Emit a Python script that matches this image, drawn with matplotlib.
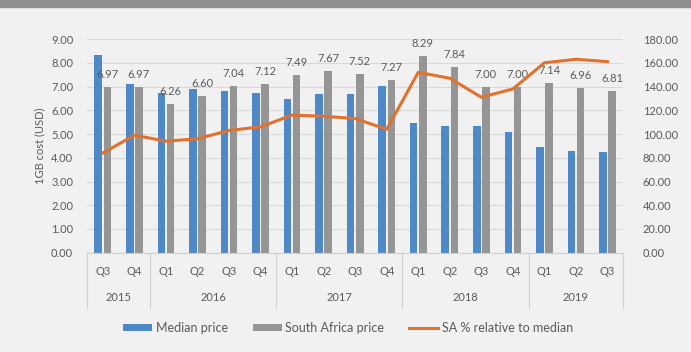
import numpy as np
import matplotlib.pyplot as plt
from matplotlib.transforms import blended_transform_factory
from matplotlib.patches import Rectangle

plt.rcParams['font.family'] = ['Lato', 'DejaVu Sans']

quarters = ['Q3', 'Q4', 'Q1', 'Q2', 'Q3', 'Q4', 'Q1', 'Q2', 'Q3', 'Q4',
            'Q1', 'Q2', 'Q3', 'Q4', 'Q1', 'Q2', 'Q3']
years = ['2015', '2016', '2017', '2018', '2019']
year_counts = [2, 4, 4, 4, 3]

median_price = [8.32, 7.10, 6.71, 6.88, 6.82, 6.71, 6.48, 6.67, 6.68, 7.01,
                5.46, 5.33, 5.33, 5.08, 4.46, 4.28, 4.23]
sa_price = [6.97, 6.97, 6.26, 6.60, 7.04, 7.12, 7.49, 7.67, 7.52, 7.27,
            8.29, 7.84, 7.00, 7.00, 7.14, 6.96, 6.81]
sa_relative = [84, 99, 94, 96, 103, 106, 116, 115, 113, 104,
               152, 147, 131, 138, 160, 163, 161]

blue = '#4f88c6'
grey = '#959595'
orange = '#e2712e'
txt = '#5a5a5a'
bg = '#f1f1f1'

fig = plt.figure(figsize=(6.91, 3.52), dpi=100, facecolor=bg)
fig.patches.append(Rectangle((0, 0.98), 1, 0.02, transform=fig.transFigure,
                             color='#8e8e8e', zorder=0))

ax = fig.add_axes([0.126, 0.282, 0.776, 0.607])
ax.set_facecolor(bg)
x = np.arange(len(quarters))
w = 0.24
ax.bar(x - 0.145, median_price, w, color=blue, label='Median price', zorder=2)
ax.bar(x + 0.145, sa_price, w, color=grey, label='South Africa price', zorder=2)
for xi, v in zip(x, sa_price):
    ax.annotate('%.2f' % v, (xi + 0.145, v), xytext=(0, 5), textcoords='offset points',
                ha='center', va='bottom', fontsize=8, color=txt, zorder=4)

ax.set_xlim(-0.5, len(quarters) - 0.5)
ax.set_ylim(0, 9)
ax.set_yticks(np.arange(0, 9.5, 1))
ax.set_yticklabels(['%.2f' % t for t in np.arange(0, 9.5, 1)])
ax.grid(axis='y', color='#d9d9d9', linewidth=0.8, zorder=0)
ax.set_xticks([])
for s in ['top', 'right', 'left']:
    ax.spines[s].set_visible(False)
ax.spines['bottom'].set_color('#cfcfcf')
ax.tick_params(axis='y', length=0, labelsize=8, labelcolor=txt, pad=10)
ax.set_ylabel('1GB cost (USD)', fontsize=8, color=txt, labelpad=4)

ax2 = ax.twinx()
ax2.plot(x, sa_relative, color=orange, linewidth=2.2, label='SA % relative to median', zorder=3)
ax2.set_ylim(0, 180)
ax2.set_yticks(np.arange(0, 181, 20))
ax2.set_yticklabels(['%.2f' % t for t in np.arange(0, 181, 20)])
for s in ['top', 'right', 'left', 'bottom']:
    ax2.spines[s].set_visible(False)
ax2.tick_params(axis='y', length=0, labelsize=8, labelcolor=txt, pad=14)

# two-level category axis
tr = blended_transform_factory(ax.transData, ax.transAxes)
for xi, q in zip(x, quarters):
    ax.text(xi, -0.086, q, transform=tr, ha='center', va='center', fontsize=8, color=txt)
start = 0
for yr, n in zip(years, year_counts):
    ax.text(start + (n - 1) / 2, -0.21, yr, transform=tr, ha='center', va='center',
            fontsize=8, color=txt)
    ax.plot([start - 0.5, start - 0.5], [0, -0.257], transform=tr, color='#d0d0d0',
            linewidth=0.8, clip_on=False)
    start += n
ax.plot([start - 0.5, start - 0.5], [0, -0.257], transform=tr, color='#d0d0d0',
        linewidth=0.8, clip_on=False)

h1, l1 = ax.get_legend_handles_labels()
h2, l2 = ax2.get_legend_handles_labels()
leg = fig.legend(h1 + h2, l1 + l2, loc='center', bbox_to_anchor=(0.504, 0.069), ncol=3,
                 frameon=False, fontsize=9, handlelength=2.3, handleheight=0.5,
                 columnspacing=2.0, handletextpad=0.3)
for t in leg.get_texts():
    t.set_color(txt)

fig.savefig('out.png', dpi=100, facecolor=bg)
